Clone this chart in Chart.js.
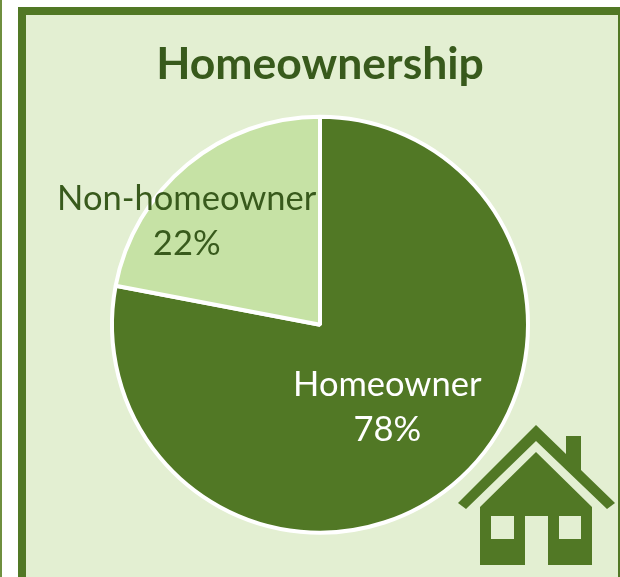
<!DOCTYPE html>
<html>
<head>
<meta charset="utf-8">
<script src="https://cdn.jsdelivr.net/npm/chart.js@4"></script>
<style>
  html, body { margin: 0; padding: 0; width: 620px; height: 577px; overflow: hidden; background: #fff; }
  #strip { position: absolute; left: 0; top: 0; width: 2px; height: 577px; background: #6f8f3f; }
  #panel { position: absolute; left: 18px; top: 7px; width: 602px; height: 570px; box-sizing: border-box;
    border: solid #517825; border-width: 8px 2px 0 8px; background: #e3efd2; }
  #chart { position: absolute; left: 0; top: 0; }
  #house { position: absolute; left: 0; top: 0; }
</style>
</head>
<body>
<div id="strip"></div>
<div id="panel"></div>
<canvas id="chart" width="620" height="577"></canvas>
<svg id="house" width="620" height="577" fill="#517825">
  <path d="M536 425 L566 454 L566 436 L581 436 L581 470 L615 503 L607 509 L536 441 L466 509 L458 503 Z"/>
  <path fill-rule="evenodd" d="M536 452 L592 507 L592 565 L548 565 L548 516 L525 516 L525 565 L480 565 L480 507 Z
    M491 516 L514 516 L514 539 L491 539 Z M559 516 L581 516 L581 539 L559 539 Z"/>
</svg>
<script>
const categories = ['Homeowner', 'Non-homeowner'];
const shares = [78, 22];
const sliceColors = ['#517825', '#c6e2a5'];
const labelColors = ['#ffffff', '#385a1c'];
// Non-homeowner label sits out towards the rim in the original
const labelShift = [[1, 2], [-67, -24]];

const sliceLabels = {
  id: 'sliceLabels',
  afterDatasetsDraw(chart) {
    const ctx = chart.ctx;
    chart.getDatasetMeta(0).data.forEach(function(arc, i) {
      const p = arc.tooltipPosition();
      const x = p.x + labelShift[i][0];
      const y = p.y + labelShift[i][1];
      ctx.save();
      ctx.font = '34.5px Lato';
      ctx.fillStyle = labelColors[i];
      ctx.textAlign = 'center';
      ctx.textBaseline = 'middle';
      ctx.fillText(categories[i], x, y - 22);
      ctx.fillText(shares[i] + '%', x, y + 23);
      ctx.restore();
    });
  }
};

new Chart(document.getElementById('chart'), {
  type: 'pie',
  data: {
    labels: categories,
    datasets: [{
      data: shares,
      backgroundColor: sliceColors,
      borderColor: '#ffffff',
      borderWidth: 4
    }]
  },
  options: {
    responsive: false,
    animation: false,
    radius: 208,
    layout: { padding: { left: 20, top: 0, bottom: 36 } },
    plugins: {
      legend: { display: false },
      tooltip: { enabled: false },
      title: {
        display: true,
        text: 'Homeownership',
        color: '#385a1c',
        font: { family: 'Lato', size: 44.5, weight: 'bold' },
        padding: { top: 38, bottom: 17 }
      }
    }
  },
  plugins: [sliceLabels]
});
</script>
</body>
</html>
